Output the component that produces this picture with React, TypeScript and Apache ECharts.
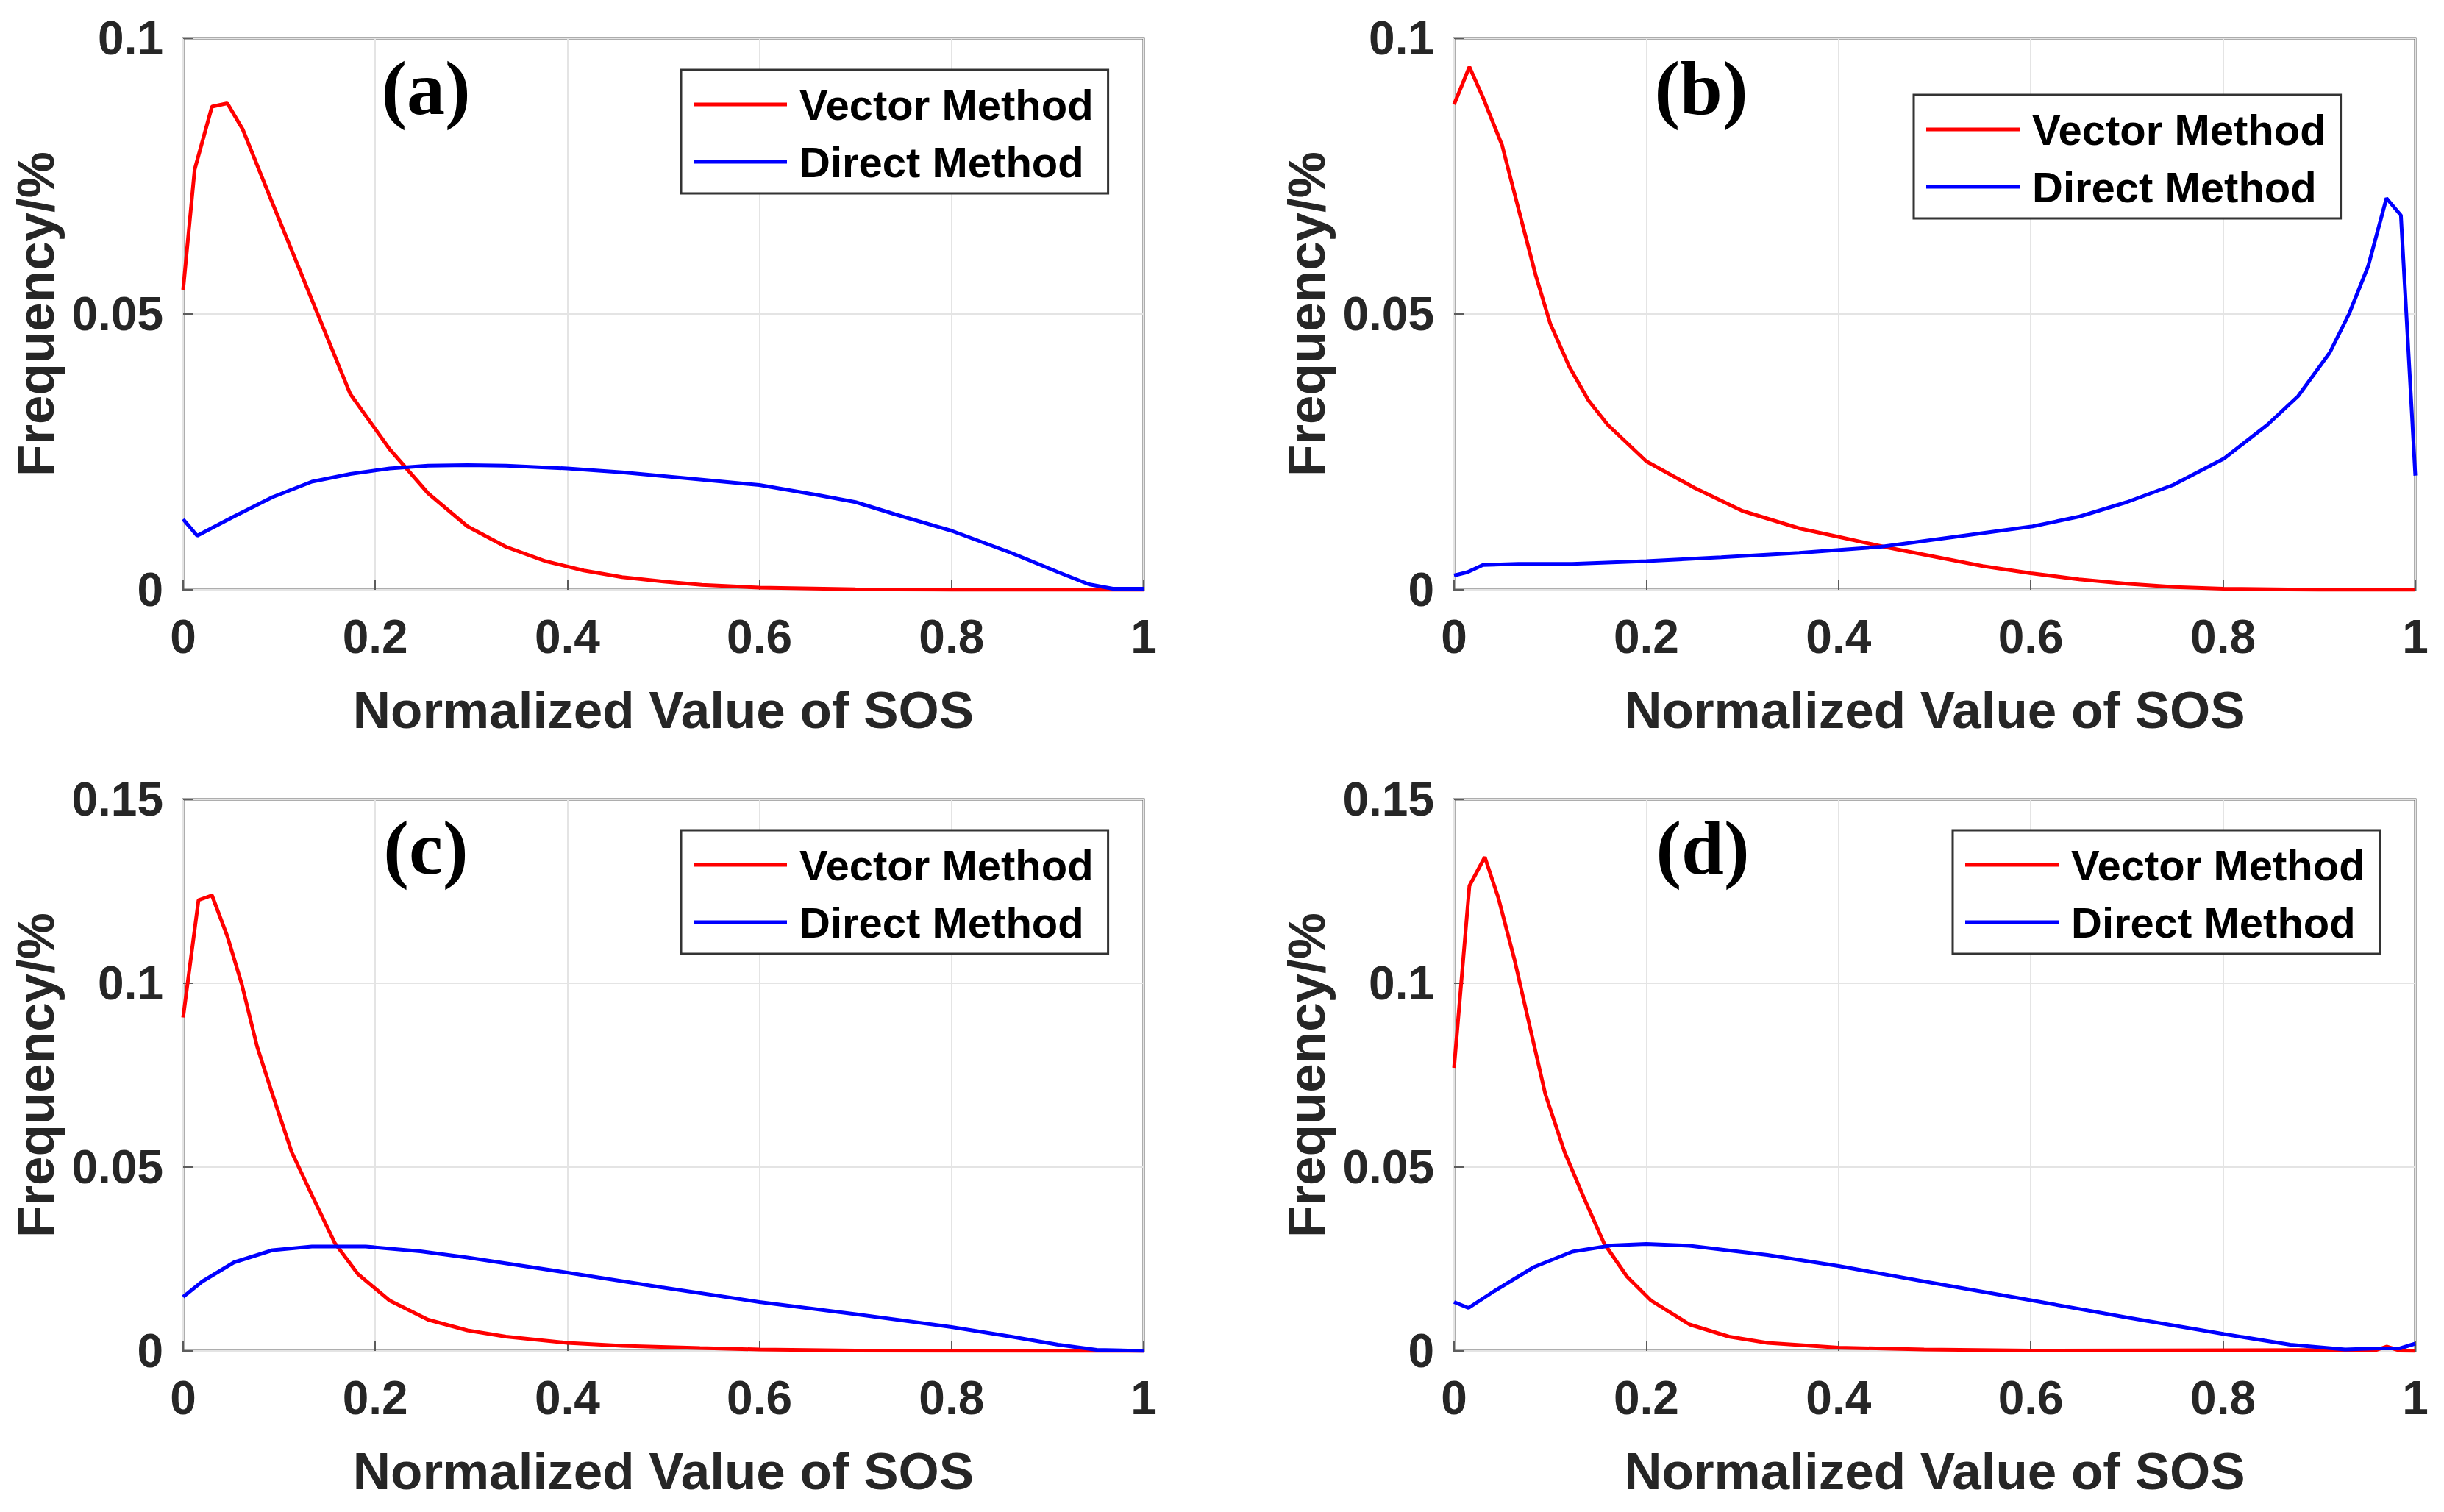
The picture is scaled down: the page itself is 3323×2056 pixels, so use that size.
import React, { useEffect, useRef } from "react";
import * as echarts from "echarts";

// ---- text ----
const SERIES_NAMES = ["Vector Method", "Direct Method"];
const PANEL_LABELS = ["(a)", "(b)", "(c)", "(d)"];
const X_NAME = "Normalized Value of SOS";
const Y_NAME = "Frequency/%";

// ---- axis ranges ----
const X_MAX = 1;
const X_STEP = 0.2;
const Y_MAX = [0.1, 0.1, 0.15, 0.15];
const Y_STEP = 0.05;

// ---- panel (a) ----
const vectorAX = [0, 0.012, 0.03, 0.046, 0.062, 0.093, 0.134, 0.174, 0.215, 0.255, 0.296, 0.336, 0.377, 0.417, 0.457, 0.5, 0.54, 0.6, 0.7, 0.8, 1.0];
const vectorAY = [0.0544, 0.0762, 0.0876, 0.0882, 0.0835, 0.0701, 0.0526, 0.0355, 0.0255, 0.0175, 0.0115, 0.0078, 0.0052, 0.0035, 0.0023, 0.0015, 0.0009, 0.0004, 0.0001, 0, 0];
const directAX = [0, 0.0146, 0.053, 0.093, 0.134, 0.174, 0.215, 0.255, 0.296, 0.336, 0.4, 0.457, 0.538, 0.6, 0.66, 0.7, 0.741, 0.8, 0.862, 0.911, 0.943, 0.968, 1.0];
const directAY = [0.0128, 0.0098, 0.0133, 0.0168, 0.0196, 0.021, 0.022, 0.0225, 0.0226, 0.0225, 0.022, 0.0213, 0.02, 0.019, 0.0172, 0.0159, 0.0137, 0.0107, 0.0067, 0.0032, 0.001, 0.0002, 0.0002];

// ---- panel (b) ----
const vectorBX = [0, 0.016, 0.03, 0.05, 0.068, 0.085, 0.1, 0.12, 0.14, 0.16, 0.2, 0.25, 0.3, 0.36, 0.4, 0.45, 0.5, 0.55, 0.6, 0.65, 0.7, 0.75, 0.8, 0.9, 1.0];
const vectorBY = [0.088, 0.0948, 0.0893, 0.0806, 0.0684, 0.057, 0.0483, 0.0404, 0.0343, 0.0299, 0.0233, 0.0185, 0.0143, 0.0111, 0.0096, 0.0077, 0.006, 0.0043, 0.003, 0.0019, 0.0011, 0.0005, 0.0002, 0, 0];
const directBX = [0, 0.014, 0.03, 0.067, 0.123, 0.2, 0.278, 0.359, 0.444, 0.521, 0.602, 0.651, 0.7, 0.748, 0.801, 0.846, 0.878, 0.911, 0.931, 0.951, 0.97, 0.985, 1.0];
const directBY = [0.0026, 0.0032, 0.0045, 0.0047, 0.0047, 0.0052, 0.0059, 0.0067, 0.0078, 0.0096, 0.0115, 0.0133, 0.0159, 0.019, 0.0238, 0.0299, 0.0351, 0.043, 0.05, 0.0587, 0.071, 0.0679, 0.0207];

// ---- panel (c) ----
const vectorCX = [0, 0.016, 0.03, 0.046, 0.061, 0.077, 0.093, 0.113, 0.134, 0.158, 0.182, 0.215, 0.255, 0.296, 0.336, 0.4, 0.457, 0.538, 0.6, 0.7, 1.0];
const vectorCY = [0.0907, 0.1226, 0.1239, 0.1128, 0.0998, 0.0828, 0.0698, 0.0541, 0.0424, 0.0293, 0.0209, 0.0137, 0.0085, 0.0056, 0.0039, 0.0022, 0.0014, 0.0008, 0.0004, 0.0001, 0];
const directCX = [0, 0.02, 0.053, 0.093, 0.134, 0.19, 0.247, 0.296, 0.4, 0.498, 0.6, 0.7, 0.8, 0.862, 0.911, 0.951, 1.0];
const directCY = [0.0147, 0.0189, 0.0241, 0.0274, 0.0284, 0.0284, 0.0271, 0.0254, 0.0213, 0.0173, 0.0133, 0.01, 0.0065, 0.0039, 0.0017, 0.0003, 0];

// ---- panel (d) ----
const vectorDX = [0, 0.016, 0.032, 0.046, 0.063, 0.079, 0.095, 0.115, 0.136, 0.156, 0.18, 0.205, 0.245, 0.286, 0.326, 0.4, 0.489, 0.6, 0.96, 0.97, 0.984, 1.0];
const vectorDY = [0.077, 0.1265, 0.1343, 0.1233, 0.1063, 0.088, 0.0698, 0.0541, 0.0411, 0.0293, 0.0202, 0.0137, 0.0072, 0.0039, 0.0022, 0.0009, 0.0004, 0.0001, 0.0003, 0.0012, 0.0001, 0];
const directDX = [0, 0.015, 0.042, 0.083, 0.123, 0.164, 0.2, 0.245, 0.326, 0.4, 0.489, 0.602, 0.7, 0.801, 0.87, 0.927, 0.96, 0.984, 1.0];
const directDY = [0.0133, 0.0117, 0.0163, 0.0228, 0.027, 0.0287, 0.0291, 0.0286, 0.0261, 0.0231, 0.0189, 0.0137, 0.0091, 0.0046, 0.0017, 0.0004, 0.0007, 0.0007, 0.002];

const PANELS = [
  { vx: vectorAX, vy: vectorAY, dx: directAX, dy: directAY },
  { vx: vectorBX, vy: vectorBY, dx: directBX, dy: directBY },
  { vx: vectorCX, vy: vectorCY, dx: directCX, dy: directCY },
  { vx: vectorDX, vy: vectorDY, dx: directDX, dy: directDY },
];

// ---- layout (pixels) ----
const W = 3323;
const H = 2056;
const GRID_BOXES = [
  { left: 249, top: 52, width: 1306, height: 750 },
  { left: 1977, top: 52, width: 1307, height: 750 },
  { left: 249, top: 1087, width: 1306, height: 750 },
  { left: 1977, top: 1087, width: 1307, height: 750 },
];
const LEGEND_POS = [
  { left: 926, top: 95 },
  { left: 2602, top: 129 },
  { left: 926, top: 1129 },
  { left: 2655, top: 1129 },
];
const LABEL_POS = [
  { x: 579, y: 119 },
  { x: 2313, y: 119 },
  { x: 579, y: 1152 },
  { x: 2315, y: 1152 },
];

const SANS = "'Liberation Sans', Arial, Helvetica, sans-serif";
const SERIF = "'Liberation Serif', 'Times New Roman', serif";
const TEXT_COLOR = "#262626";
const BOX_COLOR = "#5c5c5c";
const GRID_COLOR = "#e4e4e4";
const RED = "#ff0000";
const BLUE = "#0000ff";
const LINE_W = 5;

const zip = (xs: number[], ys: number[]) => xs.map((x, i) => [x, ys[i]]);

function buildOption() {
  const grid = GRID_BOXES.map((g) => ({
    ...g,
    show: true,
    borderColor: BOX_COLOR,
    borderWidth: 3,
    backgroundColor: "#ffffff",
    containLabel: false,
  }));

  const xAxis = GRID_BOXES.map((_, i) => ({
    type: "value",
    gridIndex: i,
    min: 0,
    max: X_MAX,
    interval: X_STEP,
    name: X_NAME,
    nameLocation: "middle",
    nameGap: 128,
    nameTextStyle: { fontFamily: SANS, fontWeight: "bold", fontSize: 71, color: TEXT_COLOR },
    axisLine: { show: false },
    axisTick: { show: true, inside: true, length: 13, lineStyle: { color: BOX_COLOR, width: 2 } },
    axisLabel: {
      fontFamily: SANS,
      fontWeight: "bold",
      fontSize: 64,
      color: TEXT_COLOR,
      margin: 32,
      hideOverlap: false,
    },
    splitLine: { show: true, lineStyle: { color: GRID_COLOR, width: 2 } },
  }));

  const yAxis = GRID_BOXES.map((_, i) => ({
    type: "value",
    gridIndex: i,
    min: 0,
    max: Y_MAX[i],
    interval: Y_STEP,
    name: Y_NAME,
    nameLocation: "middle",
    nameGap: 165,
    nameTextStyle: { fontFamily: SANS, fontWeight: "bold", fontSize: 71, color: TEXT_COLOR },
    axisLine: { show: false },
    axisTick: { show: true, inside: true, length: 13, lineStyle: { color: BOX_COLOR, width: 2 } },
    axisLabel: {
      fontFamily: SANS,
      fontWeight: "bold",
      fontSize: 64,
      color: TEXT_COLOR,
      margin: 27,
      hideOverlap: false,
    },
    splitLine: { show: true, lineStyle: { color: GRID_COLOR, width: 2 } },
  }));

  const series: any[] = [];
  PANELS.forEach((p, i) => {
    series.push({
      type: "line",
      name: SERIES_NAMES[0],
      xAxisIndex: i,
      yAxisIndex: i,
      data: zip(p.vx, p.vy),
      symbol: "none",
      showSymbol: false,
      lineStyle: { color: RED, width: LINE_W },
      itemStyle: { color: RED },
      z: 3,
    });
    series.push({
      type: "line",
      name: SERIES_NAMES[1],
      xAxisIndex: i,
      yAxisIndex: i,
      data: zip(p.dx, p.dy),
      symbol: "none",
      showSymbol: false,
      lineStyle: { color: BLUE, width: LINE_W },
      itemStyle: { color: BLUE },
      z: 4,
    });
  });

  // legend keys are plain horizontal strokes
  const legend = LEGEND_POS.map((pos) => ({
    ...pos,
    orient: "vertical",
    data: SERIES_NAMES.map((name) => ({ name, icon: "rect" })),
    selectedMode: false,
    backgroundColor: "#ffffff",
    borderColor: "#333333",
    borderWidth: 3,
    borderRadius: 0,
    padding: [14, 20, 10, 17],
    itemWidth: 127,
    itemHeight: 5,
    itemGap: 12,
    textStyle: {
      fontFamily: SANS,
      fontWeight: "bold",
      fontSize: 58,
      lineHeight: 66,
      color: "#000000",
      padding: [0, 0, 0, 12],
    },
  }));

  const graphic = LABEL_POS.map((pos, i) => ({
    type: "text",
    x: pos.x,
    y: pos.y,
    z: 10,
    style: {
      text: PANEL_LABELS[i],
      fontFamily: SERIF,
      fontWeight: "bold",
      fontSize: 104,
      fill: "#000000",
      align: "center",
      verticalAlign: "middle",
    },
  }));

  return {
    animation: false,
    backgroundColor: "#ffffff",
    grid,
    xAxis,
    yAxis,
    legend,
    series,
    graphic,
  };
}

export default function App() {
  const ref = useRef<HTMLDivElement>(null);

  useEffect(() => {
    if (!ref.current) return;
    const chart = echarts.init(ref.current, undefined, { renderer: "svg" });
    chart.setOption(buildOption() as any);
    return () => chart.dispose();
  }, []);

  return (
    <div
      ref={ref}
      style={{ position: "fixed", left: 0, top: 0, width: W, height: H, background: "#ffffff" }}
    />
  );
}
